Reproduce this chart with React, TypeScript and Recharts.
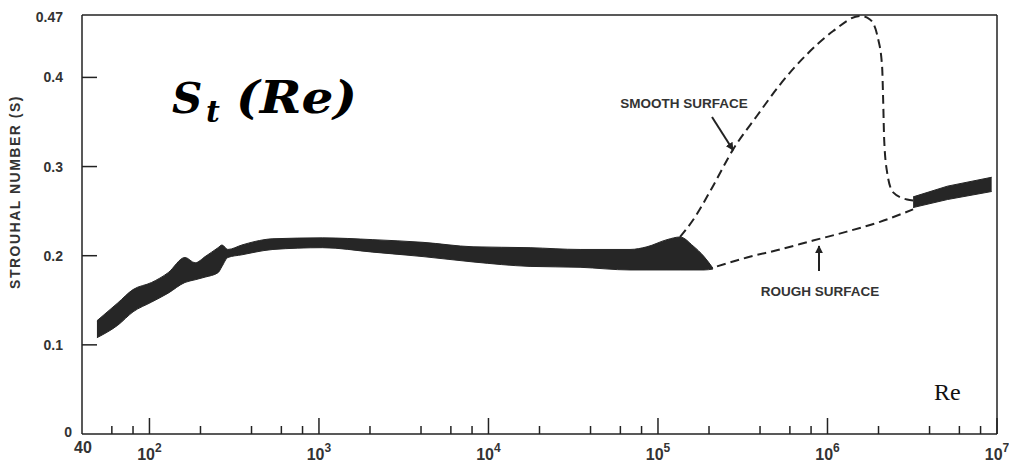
import { ComposedChart, Area, Line, XAxis, YAxis, ReferenceLine } from 'recharts';

// Strouhal number vs Reynolds number for a circular cylinder
const bandRe = [49, 65, 80, 103, 129, 162, 186, 213, 254, 268, 290, 351, 420, 535, 1050, 2080, 4110, 8110, 17600, 34700, 68400, 86100, 113000, 135000, 161000, 187000, 211000];
const bandLow = [0.108, 0.122, 0.137, 0.148, 0.158, 0.170, 0.173, 0.176, 0.181, 0.188, 0.198, 0.201, 0.204, 0.207, 0.209, 0.204, 0.199, 0.193, 0.188, 0.187, 0.184, 0.184, 0.184, 0.184, 0.184, 0.184, 0.185];
const bandHigh = [0.127, 0.147, 0.162, 0.170, 0.181, 0.198, 0.192, 0.199, 0.209, 0.212, 0.207, 0.212, 0.216, 0.219, 0.220, 0.218, 0.215, 0.210, 0.209, 0.207, 0.207, 0.210, 0.218, 0.221, 0.211, 0.199, 0.186];

const band2Re = [3.2e6, 5.1e6, 9.3e6];
const band2Low = [0.254, 0.263, 0.272];
const band2High = [0.266, 0.278, 0.288];

const smoothRe = [1.35e5, 1.61e5, 2.11e5, 2.77e5, 3.84e5, 5.25e5, 7.57e5, 1.08e6, 1.56e6, 1.78e6, 1.99e6, 2.1e6, 2.13e6, 2.16e6, 2.25e6, 2.44e6, 2.95e6, 3.2e6];
const smoothSt = [0.221, 0.240, 0.278, 0.319, 0.357, 0.392, 0.426, 0.452, 0.469, 0.465, 0.443, 0.412, 0.375, 0.330, 0.293, 0.271, 0.263, 0.262];

const roughRe = [2.23e5, 3.35e5, 5.25e5, 8.22e5, 1.3e6, 2.04e6, 3.2e6];
const roughSt = [0.188, 0.198, 0.207, 0.217, 0.227, 0.238, 0.252];

const xTicks = [40, 60, 80, 100, 200, 400, 600, 800, 1e3, 2e3, 4e3, 6e3, 8e3, 1e4, 2e4, 4e4, 6e4, 8e4, 1e5, 2e5, 4e5, 6e5, 8e5, 1e6, 2e6, 4e6, 6e6, 8e6, 1e7];
const yTicks = [0, 0.1, 0.2, 0.3, 0.4, 0.47];

const band = bandRe.map((re, i) => ({ re, band: [bandLow[i], bandHigh[i]] }));
const band2 = band2Re.map((re, i) => ({ re, band: [band2Low[i], band2High[i]] }));
const smooth = smoothRe.map((re, i) => ({ re, st: smoothSt[i] }));
const rough = roughRe.map((re, i) => ({ re, st: roughSt[i] }));

const INK = '#222';
const LABEL = '#333';
const FONT = '"Liberation Sans", Arial, sans-serif';

const XTick = ({ x, y, payload }: any) => {
  const v = payload.value;
  const p = Math.log10(v);
  const major = Math.abs(p - Math.round(p)) < 1e-9;
  if (v === 40) {
    return (
      <text x={x + 1} y={y + 19} textAnchor="middle" fontFamily={FONT} fontWeight="bold" fontSize={16} fill={LABEL}>40</text>
    );
  }
  return (
    <g>
      <line x1={x} x2={x} y1={y} y2={y - (major ? 16 : 8)} stroke={INK} strokeWidth={1.5} />
      {major && (
        <text x={x} y={y + 26} textAnchor="middle" fontFamily={FONT} fontWeight="bold" fontSize={16} fill={LABEL}>
          10<tspan dy={-8} fontSize={12}>{Math.round(p)}</tspan>
        </text>
      )}
    </g>
  );
};

const YTick = ({ x, y, payload }: any) => {
  const v = payload.value;
  const inner = v > 0 && v < 0.47;
  return (
    <g>
      {inner && <line x1={x} x2={x + 15} y1={y} y2={y} stroke={INK} strokeWidth={1.5} />}
      <text
        x={v === 0 ? x - 10 : x - 19}
        y={v === 0 ? y + 3 : v === 0.47 ? y + 7 : y + 5}
        textAnchor="end"
        fontFamily={FONT}
        fontWeight="bold"
        fontSize={14}
        fill={LABEL}
      >
        {String(v)}
      </text>
    </g>
  );
};

export default function App() {
  return (
    <div style={{ position: 'absolute', left: 0, top: 0, width: 1009, height: 465, background: '#fff' }}>
      <ComposedChart width={1009} height={465} margin={{ top: 15, right: 12, bottom: 0, left: 22 }}>
        <XAxis
          type="number"
          dataKey="re"
          scale="log"
          domain={[40, 1e7]}
          allowDataOverflow
          ticks={xTicks}
          interval={0}
          tick={<XTick />}
          tickLine={false}
          tickSize={0}
          tickMargin={0}
          height={31}
          axisLine={{ stroke: INK, strokeWidth: 1.5 }}
        />
        <YAxis
          type="number"
          domain={[0, 0.47]}
          ticks={yTicks}
          interval={0}
          tick={<YTick />}
          tickLine={false}
          tickSize={0}
          tickMargin={0}
          width={60}
          axisLine={{ stroke: INK, strokeWidth: 1.5 }}
        />
        <ReferenceLine y={0.47} stroke={INK} strokeWidth={1.5} />
        <ReferenceLine x={1e7} stroke={INK} strokeWidth={1.5} />
        <Area data={band} dataKey="band" type="monotone" fill="#262626" fillOpacity={1} stroke="#262626" strokeWidth={1} isAnimationActive={false} />
        <Area data={band2} dataKey="band" type="linear" fill="#262626" fillOpacity={1} stroke="#262626" strokeWidth={1} isAnimationActive={false} />
        <Line data={smooth} dataKey="st" type="monotone" stroke={INK} strokeWidth={2} strokeDasharray="9 5" dot={false} isAnimationActive={false} />
        <Line data={rough} dataKey="st" type="monotone" stroke={INK} strokeWidth={2} strokeDasharray="9 5" dot={false} isAnimationActive={false} />
      </ComposedChart>

      <svg width={1009} height={465} style={{ position: 'absolute', left: 0, top: 0, pointerEvents: 'none' }}>
        <defs>
          <marker id="head" viewBox="0 0 10 10" refX="9" refY="5" markerWidth="4" markerHeight="4" orient="auto">
            <path d="M0,0 L10,5 L0,10 z" fill={INK} />
          </marker>
        </defs>
        <text
          transform="translate(20,192) rotate(-90)"
          textAnchor="middle"
          fontFamily={FONT}
          fontWeight="bold"
          fontSize={14}
          letterSpacing={1.5}
          fill={LABEL}
        >
          STROUHAL NUMBER (S)
        </text>
        <text x={684} y={108} textAnchor="middle" fontFamily={FONT} fontWeight="bold" fontSize={13.5} fill={LABEL}>SMOOTH SURFACE</text>
        <line x1={712} y1={117} x2={733} y2={150} stroke={INK} strokeWidth={2} markerEnd="url(#head)" />
        <text x={820} y={296} textAnchor="middle" fontFamily={FONT} fontWeight="bold" fontSize={13.5} fill={LABEL}>ROUGH SURFACE</text>
        <line x1={819} y1={271} x2={819} y2={246} stroke={INK} strokeWidth={2} markerEnd="url(#head)" />
        <text x={934} y={400} fontFamily='"Liberation Serif", "Times New Roman", serif' fontSize={24} fill="#111">Re</text>
        <g fontFamily='"DejaVu Serif", serif' fontWeight="bold" fontStyle="italic" fill="#000">
          <text x={172} y={113} fontSize={42}>S</text>
          <text x={206} y={122} fontSize={30}>t</text>
          <text x={236} y={113} fontSize={44} textLength={121} lengthAdjust="spacingAndGlyphs">(Re)</text>
        </g>
      </svg>
    </div>
  );
}
